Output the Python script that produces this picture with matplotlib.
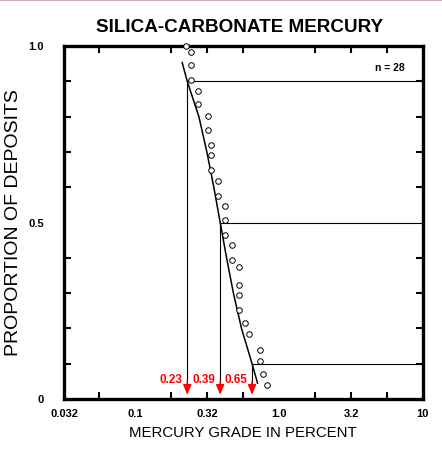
import matplotlib
matplotlib.use("Agg")
import matplotlib.pyplot as plt
from matplotlib.lines import Line2D

plt.rcParams['font.family'] = ['Liberation Sans', 'DejaVu Sans']

# observed deposits (grade %, cumulative proportion)
grade = [0.227, 0.245, 0.245, 0.245, 0.272, 0.272, 0.323, 0.323, 0.337, 0.337,
         0.337, 0.375, 0.375, 0.42, 0.42, 0.42, 0.468, 0.468, 0.526, 0.526,
         0.526, 0.526, 0.579, 0.621, 0.736, 0.736, 0.778, 0.82]
prop = [1.0, 0.984, 0.946, 0.904, 0.873, 0.835, 0.802, 0.762, 0.719, 0.690,
        0.650, 0.618, 0.576, 0.547, 0.507, 0.465, 0.436, 0.394, 0.374, 0.323,
        0.295, 0.252, 0.216, 0.184, 0.139, 0.109, 0.070, 0.039]

# fitted curve
curve_x = [0.212, 0.23, 0.277, 0.315, 0.352, 0.39, 0.432, 0.482, 0.549, 0.65, 0.71]
curve_y = [0.953, 0.9, 0.8, 0.7, 0.6, 0.5, 0.4, 0.3, 0.2, 0.1, 0.045]

# percentiles 90 / 50 / 10
pct_y = [0.9, 0.5, 0.1]
pct_x = [0.23, 0.39, 0.65]
pct_lbl = ["0.23", "0.39", "0.65"]

xticks = [0.032, 0.1, 0.32, 1.0, 3.2, 10]
xtick_lbl = ["0.032", "0.1", "0.32", "1.0", "3.2", "10"]

fig = plt.figure(figsize=(4.42, 4.61), dpi=100)
ax = fig.add_axes([0.1437, 0.1345, 0.8122, 0.7657])

xmin, xmax = 10 ** -1.5, 10.0
ax.set_xscale("log")
ax.set_xlim(xmin, xmax)
ax.set_ylim(0, 1)

ax.plot(curve_x, curve_y, color="black", lw=1.1, zorder=3)
ax.plot(grade, prop, linestyle="none", marker="o", ms=4.0, mfc="white",
        mec="black", mew=0.7, clip_on=False, zorder=4)

for px, py, lbl in zip(pct_x, pct_y, pct_lbl):
    ax.plot([px, xmax], [py, py], color="black", lw=0.8, zorder=2)
    ax.plot([px, px], [py, 0.045], color="black", lw=0.8, zorder=2)
    ax.annotate("", xy=(px, 0.012), xytext=(px, 0.05),
                arrowprops=dict(arrowstyle="-|>,head_length=0.6,head_width=0.25",
                                color="red", lw=1.0, shrinkA=0, shrinkB=0))
    ax.text(px * 0.93, 0.055, lbl, color="red", fontsize=8.5, fontweight="bold",
            ha="right", va="center")

ax.text(0.91, 0.938, "n = 28", transform=ax.transAxes, fontsize=7.5,
        fontweight="bold", ha="center", va="center")

# ticks every quarter decade, every 0.1 in proportion
qt = [10 ** (-1.5 + 0.25 * k) for k in range(1, 10)]
ax.set_xticks(qt, minor=True)
ax.set_xticks(xticks)
ax.set_xticklabels(xtick_lbl)
ax.set_yticks([k / 10 for k in range(11)], minor=True)
ax.set_yticks([0, 0.5, 1.0])
ax.set_yticklabels(["0", "0.5", "1.0"])
ax.tick_params(which="minor", direction="in", length=5, width=1.5,
               top=True, right=True, bottom=True, left=True)
ax.tick_params(which="major", direction="in", length=0, width=1.5,
               top=True, right=True, labelsize=8)
ax.tick_params(axis="x", which="major", pad=7)
ax.tick_params(axis="y", which="major", pad=14)
for t in ax.get_xticklabels() + ax.get_yticklabels():
    t.set_fontweight("bold")

for s in ax.spines.values():
    s.set_linewidth(2.4)

ax.set_xlabel("MERCURY GRADE IN PERCENT", fontsize=10.8, labelpad=5)
ax.set_ylabel("PROPORTION OF DEPOSITS", fontsize=14)
ax.yaxis.set_label_coords(-0.115, 0.5)
fig.text(0.543, 0.94, "SILICA-CARBONATE MERCURY", fontsize=13.6,
         fontweight="bold", ha="center", va="center")

fig.add_artist(Line2D([0, 1], [0.999, 0.999], transform=fig.transFigure,
                      color="#c0a49c", lw=1.2))

fig.savefig("out.png", dpi=100)
